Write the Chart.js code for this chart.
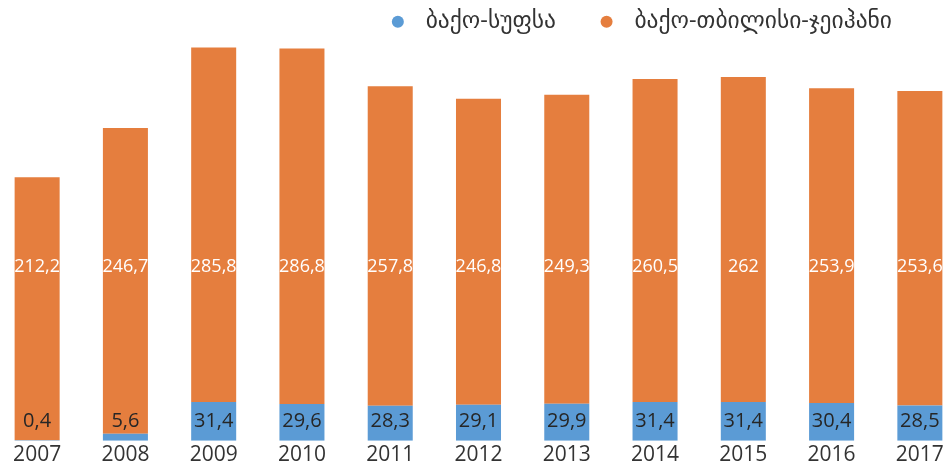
<!DOCTYPE html>
<html>
<head>
<meta charset="utf-8">
<script src="https://cdn.jsdelivr.net/npm/chart.js@4"></script>
<style>
  html, body { margin: 0; padding: 0; background: #fff; overflow: hidden; }
  #wrap { position: absolute; left: -7px; top: 0; width: 971px; height: 470px; }
</style>
</head>
<body>
<div id="wrap"><canvas id="pipes" width="971" height="470"></canvas></div>
<script>
// Data
years = ['2007', '2008', '2009', '2010', '2011', '2012', '2013', '2014', '2015', '2016', '2017'];
bakuSupsa = [0.4, 5.6, 31.4, 29.6, 28.3, 29.1, 29.9, 31.4, 31.4, 30.4, 28.5];
bakuTbilisiCeyhan = [212.2, 246.7, 285.8, 286.8, 257.8, 246.8, 249.3, 260.5, 262, 253.9, 253.6];
seriesNames = ['ბაქო-სუფსა', 'ბაქო-თბილისი-ჯეიჰანი'];

FONT = "'Open Sans', 'DejaVu Sans', sans-serif";

// labels inside the bars, drawn at a fixed height per series
barLabels = {
  id: 'barLabels',
  afterDatasetsDraw(chart) {
    const ctx = chart.ctx;
    const y = chart.scales.y;
    const rows = [
      {ds: 0, at: 15.5, color: '#262626', size: 20},
      {ds: 1, at: 140, color: '#ffffff', size: 18}
    ];
    ctx.save();
    ctx.textAlign = 'center';
    ctx.textBaseline = 'middle';
    rows.forEach(r => {
      const meta = chart.getDatasetMeta(r.ds);
      const vals = chart.data.datasets[r.ds].data;
      ctx.font = r.size + 'px ' + FONT;
      meta.data.forEach((bar, i) => {
        ctx.fillStyle = r.color;
        ctx.fillText(String(vals[i]).replace('.', ','), bar.x, y.getPixelForValue(r.at));
      });
    });
    ctx.restore();
  }
};

// push legend a bit to the left
legendShift = {
  id: 'legendShift',
  afterLayout(chart) {
    chart.legend.left -= 62;
    chart.legend.right -= 62;
  }
};

ctx = document.getElementById('pipes').getContext('2d');

myChart = new Chart(ctx, {
  type: 'bar',
  data: {
    labels: years,
    datasets: [
      {label: seriesNames[0], data: bakuSupsa, backgroundColor: '#5B9BD5'},
      {label: seriesNames[1], data: bakuTbilisiCeyhan, backgroundColor: '#E57E3E'}
    ]
  },
  options: {
    responsive: false,
    animation: false,
    devicePixelRatio: 1,
    categoryPercentage: 1,
    barPercentage: 0.51,
    layout: {padding: 0},
    scales: {
      x: {
        stacked: true,
        grid: {display: false, drawTicks: false},
        border: {display: false},
        ticks: {color: '#333', font: {family: FONT, size: 21}, padding: 2}
      },
      y: {
        stacked: true,
        display: false,
        min: 0,
        max: 320.5
      }
    },
    plugins: {
      tooltip: {enabled: false},
      legend: {
        position: 'top',
        align: 'end',
        labels: {
          usePointStyle: true,
          pointStyle: 'circle',
          boxWidth: 20,
          boxHeight: 8.5,
          padding: 10,
          color: '#333',
          font: {family: FONT, size: 23.5},
          generateLabels(chart) {
            const items = Chart.defaults.plugins.legend.labels.generateLabels(chart);
            items.forEach((it, i) => {
              it.text = ' ' + it.text + (i === 0 ? '     ' : '');
              it.lineWidth = 0;
            });
            return items;
          }
        }
      }
    }
  },
  plugins: [barLabels, legendShift]
});
</script>
</body>
</html>
